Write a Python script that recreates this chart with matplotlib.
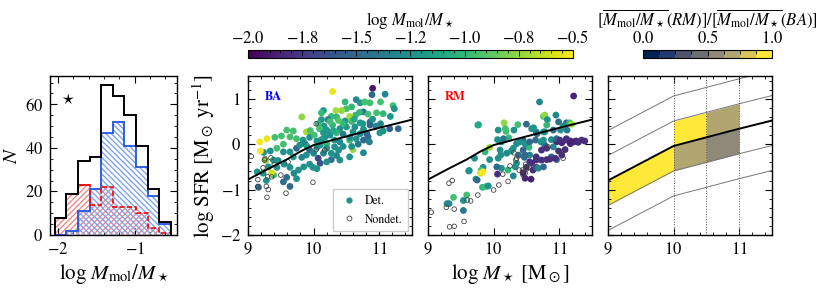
import numpy as np
import matplotlib
matplotlib.use("Agg")
import matplotlib.pyplot as plt
from matplotlib.colors import BoundaryNorm, ListedColormap
from matplotlib.ticker import AutoMinorLocator, FixedLocator, FuncFormatter
from matplotlib.lines import Line2D

plt.rcParams['font.family'] = ['STIXGeneral', 'DejaVu Serif']
plt.rcParams['mathtext.fontset'] = 'stix'
plt.rcParams['font.size'] = 12

# histogram of log Mmol/M* (bins)
hist_edges = np.linspace(-2.04, -0.53, 11)
hist_all = [8, 19, 34, 36, 69, 64, 55, 41, 21, 6]
hist_ba = [0, 2, 11, 21, 47, 52, 41, 31, 18, 5]
hist_rm = [8, 19, 23, 14, 22, 13, 13, 10, 3, 1]

# BA sample, detections: (log M*, log SFR, log Mmol/M*)
ba_det = [
    (10.90, 1.23, -1.9), (10.89, 1.09, -1.5), (11.09, 1.10, -1.3), (10.48, 0.93, -1.0),
    (10.29, 1.16, -0.55), (10.65, 0.98, -1.3), (10.71, 0.91, -1.2), (10.78, 0.93, -0.95),
    (10.86, 0.91, -0.95), (11.02, 0.93, -0.95), (11.21, 0.85, -0.95), (11.23, 0.78, -1.25),
    (10.58, 0.82, -1.0), (10.50, 0.78, -0.95), (10.43, 0.74, -0.75), (10.34, 0.74, -0.7),
    (10.15, 0.74, -1.25), (10.12, 0.69, -1.0), (10.76, 0.71, -1.4), (10.83, 0.66, -0.95),
    (10.96, 0.69, -0.95), (11.06, 0.67, -1.0), (11.17, 0.61, -1.2), (10.64, 0.64, -1.0),
    (10.55, 0.61, -0.7), (10.35, 0.60, -1.0), (10.27, 0.61, -1.0), (10.22, 0.54, -1.4),
    (10.12, 0.54, -1.2), (10.07, 0.45, -1.0), (10.48, 0.51, -1.2), (10.58, 0.50, -0.95),
    (10.71, 0.47, -1.2), (10.86, 0.49, -1.5), (10.29, 0.42, -1.0), (10.16, 0.40, -1.2),
    (10.09, 0.34, -0.95), (10.20, 0.31, -1.2), (10.40, 0.34, -1.25), (10.50, 0.38, -1.2),
    (10.63, 0.38, -1.25), (10.76, 0.33, -1.25), (10.86, 0.42, -1.5), (11.16, 0.34, -1.55),
    (11.29, 0.34, -1.5), (11.06, 0.29, -1.25), (11.01, 0.25, -1.2), (10.81, 0.23, -1.5),
    (10.71, 0.23, -1.3), (10.60, 0.27, -1.25), (10.45, 0.22, -1.4), (10.35, 0.25, -1.0),
    (10.25, 0.20, -1.25), (10.17, 0.15, -1.25), (10.12, 0.10, -1.2), (10.05, 0.07, -1.25),
    (10.10, -0.02, -1.25), (10.20, 0.01, -1.0), (10.32, 0.09, -1.25), (10.40, 0.05, -1.3),
    (10.55, 0.09, -1.0), (10.65, 0.12, -1.25), (10.76, 0.09, -1.5), (10.83, 0.16, -1.5),
    (10.20, -0.09, -1.25), (10.32, -0.06, -1.25), (10.05, -0.07, -1.25), (10.15, -0.20, -1.3),
    (10.27, -0.20, -1.25), (10.38, -0.13, -1.25), (10.60, -0.12, -0.75), (10.76, -0.19, -1.3),
    (10.27, -0.34, -1.45), (10.40, -0.35, -1.25), (10.07, -0.31, -1.7), (10.10, -0.42, -1.6),
    (10.20, -0.39, -1.25), (9.99, -0.51, -1.25), (10.05, -0.54, -1.25), (10.55, -0.28, -1.25),
    (9.89, 0.27, -0.7), (9.84, 0.09, -1.25), (9.74, 0.12, -0.95), (9.64, 0.16, -0.95),
    (9.54, 0.00, -0.95), (9.94, -0.13, -1.5), (9.89, -0.24, -1.25), (9.82, -0.29, -1.3),
    (9.74, -0.09, -1.5), (9.64, -0.17, -1.25), (9.54, -0.17, -1.25), (9.44, -0.09, -0.95),
    (9.34, -0.15, -1.25), (9.24, -0.18, -1.25), (9.18, 0.05, -0.5), (9.19, -0.15, -0.5),
    (9.29, 0.12, -0.55), (9.39, -0.35, -1.25), (9.46, -0.36, -1.25), (9.55, -0.44, -1.25),
    (9.64, -0.51, -1.25), (9.70, -0.64, -1.3), (9.59, -0.73, -1.5), (9.54, -0.83, -1.45),
    (9.64, -0.93, -1.5), (9.74, -0.76, -1.25), (9.77, -0.57, -1.25), (9.85, -0.50, -1.25),
    (9.94, -0.44, -1.25), (9.31, -0.50, -1.25), (9.23, -0.64, -1.25), (9.14, -0.61, -1.2),
    (9.16, -0.95, -1.5), (9.28, -0.80, -1.25), (9.39, -0.68, -1.0), (9.27, -0.36, -0.75),
    (9.44, -0.51, -1.25), (9.82, 0.60, -0.75), (9.69, 0.29, -0.95), (9.41, 0.15, -0.95),
    (9.51, 0.18, -0.95), (9.59, 0.31, -0.95), (9.94, 0.15, -1.25), (10.01, 0.20, -0.95),
    (9.87, 0.01, -1.3), (9.79, -0.02, -1.25), (9.69, -0.28, -1.2), (9.36, -0.63, -0.6),
    (10.45, 0.45, -1.0), (10.38, 0.52, -0.9), (10.62, 0.55, -1.1), (10.70, 0.70, -1.0),
    (10.90, 0.55, -1.25), (10.95, 0.40, -1.3), (10.30, 0.30, -1.1), (10.25, 0.50, -0.95),
    (10.55, 0.15, -1.3), (10.45, -0.05, -1.25), (10.68, 0.00, -1.4), (10.85, 0.05, -1.35),
    (10.75, 0.45, -1.2), (10.15, 0.25, -1.2), (9.95, 0.30, -0.95), (10.00, -0.20, -1.3),
    (10.35, -0.25, -1.3), (9.90, -0.05, -1.2), (10.58, -0.05, -1.25), (11.02, 0.45, -1.3),
]
# BA sample, nondetections: (log M*, log SFR)
ba_nondet = [
    (9.05, -0.27), (9.15, -0.78), (9.26, -0.32), (9.35, -0.30), (9.23, -0.52),
    (9.30, -0.72), (9.36, -0.72), (9.28, -0.93), (9.31, -1.00), (9.29, -1.17),
    (9.58, -1.08), (9.50, -0.68), (9.61, -0.39), (9.99, -0.84), (10.04, 0.45),
    (10.17, -0.13), (10.04, -0.12), (9.15, -0.93), (9.40, -0.45), (9.25, -0.35),
]

# RM sample, detections
rm_det = [
    (11.22, 1.06, -1.85), (10.70, 0.93, -1.3), (9.77, 0.43, -1.05), (10.76, 0.61, -0.9),
    (10.78, 0.64, -0.75), (10.95, 0.64, -1.3), (10.82, 0.54, -1.25), (10.50, 0.44, -1.5),
    (10.37, 0.43, -0.95), (10.16, 0.47, -0.75), (10.07, 0.31, -1.25), (10.19, 0.28, -0.95),
    (10.23, 0.14, -1.0), (10.58, 0.34, -1.25), (10.65, 0.27, -1.3), (10.76, 0.27, -1.25),
    (10.81, 0.42, -1.0), (11.11, 0.47, -1.45), (11.16, 0.47, -0.95), (11.19, 0.44, -0.75),
    (11.12, 0.31, -1.4), (11.02, 0.31, -1.25), (10.12, 0.05, -1.25), (10.35, 0.01, -1.3),
    (10.45, 0.09, -1.5), (10.50, -0.02, -1.25), (10.54, -0.07, -1.0), (10.64, 0.09, -1.5),
    (10.72, 0.05, -1.25), (10.78, -0.02, -1.5), (10.88, 0.10, -1.3), (10.96, 0.05, -1.85),
    (11.04, 0.03, -1.85), (11.11, 0.09, -1.8), (11.17, 0.07, -1.85), (11.26, 0.07, -1.85),
    (11.34, 0.09, -1.8), (11.39, 0.07, -1.8), (9.94, -0.07, -0.7), (9.87, -0.17, -1.0),
    (10.10, -0.13, -1.25), (10.20, -0.20, -1.3), (10.27, -0.15, -1.25), (10.38, -0.24, -1.5),
    (10.47, -0.29, -1.5), (10.55, -0.24, -1.3), (10.65, -0.28, -1.8), (10.73, -0.35, -1.8),
    (10.81, -0.34, -1.8), (10.88, -0.28, -1.5), (10.96, -0.34, -1.5), (11.04, -0.24, -1.8),
    (10.58, -0.42, -1.8), (10.50, -0.51, -1.85), (10.45, -0.63, -1.9), (10.60, -0.57, -1.8),
    (10.65, -0.51, -1.65), (10.22, -0.57, -1.0), (10.12, -0.53, -1.25), (10.05, -0.50, -1.5),
    (9.94, -0.34, -1.25), (9.84, -0.51, -1.25), (9.81, -0.58, -0.95), (9.80, -0.64, -0.55),
    (9.73, -0.77, -1.25), (9.63, -0.58, -1.25), (9.89, -0.93, -1.0), (9.83, -0.95, -1.0),
    (9.92, -0.92, -1.25), (9.59, -1.12, -0.95), (9.54, -1.24, -1.25), (9.39, -1.17, -0.95),
    (9.29, -1.31, -1.25), (9.54, -1.46, -1.4), (10.15, 0.12, -1.4), (10.06, 0.10, -1.25),
    (10.31, 0.31, -1.25), (10.61, 0.36, -1.25), (10.66, 0.23, -1.5), (10.78, 0.27, -1.25),
    (10.91, 0.31, -1.5), (10.99, 0.49, -1.45), (11.06, 0.40, -1.25), (10.40, 0.05, -1.25),
    (10.48, 0.01, -1.25), (10.55, 0.05, -1.5), (10.76, 0.09, -1.25), (10.96, 0.12, -1.5),
    (11.01, 0.09, -1.8), (11.11, 0.12, -1.8), (11.22, 0.05, -1.85), (11.29, 0.04, -1.8),
    (11.17, 0.01, -1.85), (10.30, -0.09, -1.25), (10.45, -0.13, -1.5), (10.73, -0.13, -1.8),
    (10.81, -0.09, -1.8), (10.91, -0.06, -1.3), (10.99, -0.15, -1.8), (11.09, -0.12, -1.8),
    (10.48, -0.24, -1.5), (10.55, -0.39, -1.8), (10.65, -0.35, -1.8), (10.86, -0.33, -1.8),
    (10.94, -0.31, -1.8), (10.35, -0.42, -1.25), (10.33, -0.50, -1.25), (10.68, -0.53, -1.3),
    (10.76, -0.50, -1.5), (10.48, -0.75, -1.85), (10.57, -0.77, -1.85), (10.30, -0.70, -1.3),
    (9.76, 0.42, -1.1), (10.18, 0.34, -0.95), (9.71, -0.31, -1.25), (9.62, -0.59, -1.25),
    (9.75, -0.79, -1.5), (9.84, -0.61, -0.5), (9.32, -1.31, -1.3), (10.07, -0.31, -1.25),
    (10.11, -0.24, -1.25), (10.06, -0.66, -1.8),
]
# RM sample, nondetections
rm_nondet = [
    (9.05, -1.50), (9.28, -1.39), (9.40, -1.43), (9.32, -0.86), (9.37, -0.80),
    (9.60, -1.23), (9.65, -1.25), (9.76, -1.12), (9.55, -1.70), (9.33, -1.82),
    (9.40, -1.81), (10.00, -1.01), (10.08, -0.90), (10.14, -0.66), (10.22, -0.82),
    (10.49, -0.44), (10.44, -0.57), (10.50, -0.55), (10.54, -0.51), (10.39, -0.57),
    (10.48, -0.64), (10.45, -0.68), (10.83, -0.06), (11.01, -0.15), (11.06, -0.31),
    (10.35, -0.31), (10.31, -0.19), (10.25, -0.48), (10.34, -0.35),
]

# star-forming main sequence
ms_mass = [9.0, 9.3, 9.6, 9.8, 10.0, 10.5, 11.0, 11.5]
ms_sfr = [-0.78, -0.55, -0.33, -0.16, -0.02, 0.17, 0.36, 0.54]

# right panel: main sequence, offset lines and ratio cells
ms4_mass = [9.0, 10.0, 10.5, 11.0, 11.5]
ms4_sfr = [-0.80, -0.04, 0.15, 0.34, 0.52]
ms4_offsets = [-1.1, -0.55, 0.55, 1.1]
cell_lo = [9.0, 10.0, 10.0, 10.5, 10.5]
cell_hi = [10.0, 10.5, 10.5, 11.0, 11.0]
cell_side = [-1, 1, -1, 1, -1]  # -1 below the sequence, +1 above
cell_ratio = [0.95, 0.95, 0.70, 0.70, 0.57]

# tick labels in math mode so the minus sign is a real one
int_fmt = FuncFormatter(lambda v, pos: '$%d$' % round(v))
one_fmt = FuncFormatter(lambda v, pos: '$%.1f$' % v)

fig = plt.figure(figsize=(8.31, 2.88), dpi=100)
ax_h = fig.add_axes([0.0602, 0.184, 0.1528, 0.552])
ax_ba = fig.add_axes([0.2984, 0.184, 0.1974, 0.552])
ax_rm = fig.add_axes([0.5150, 0.184, 0.1974, 0.552])
ax_r = fig.add_axes([0.7316, 0.184, 0.1974, 0.552])
cax1 = fig.add_axes([0.2984, 0.7986, 0.391, 0.0278])
cax2 = fig.add_axes([0.7738, 0.7986, 0.1552, 0.0278])

for ax in [ax_h, ax_ba, ax_rm, ax_r]:
    ax.tick_params(which='both', direction='in', top=True, right=True, labelsize=12, pad=5)
    ax.tick_params(which='major', length=5, width=0.8)
    ax.tick_params(which='minor', length=2.5, width=0.6)
    ax.xaxis.set_minor_locator(AutoMinorLocator())
    ax.yaxis.set_minor_locator(AutoMinorLocator())
    ax.xaxis.set_major_formatter(int_fmt)
    ax.yaxis.set_major_formatter(int_fmt)
    for sp in ax.spines.values():
        sp.set_linewidth(1.0)

# --- histogram panel
ax_h.stairs(hist_rm, hist_edges, fill=True, facecolor='none', edgecolor='#f28a8a',
            hatch='//////', linewidth=0, zorder=1)
ax_h.stairs(hist_ba, hist_edges, fill=True, facecolor='none', edgecolor='#7ea4ee',
            hatch='\\\\\\\\\\\\', linewidth=0, zorder=2)
ax_h.stairs(hist_rm[:3], hist_edges[:4], baseline=None, color='red', linewidth=1.3, zorder=2.2)
ax_h.stairs(hist_ba, hist_edges, color='#1f55e0', linewidth=1.3, zorder=2.5)
ax_h.stairs(hist_rm, hist_edges, color='red', linewidth=1.2, linestyle=(0, (3, 1.5)), zorder=3)
ax_h.stairs(hist_all, hist_edges, color='black', linewidth=1.4, zorder=4)
ax_h.text(-1.87, 62, r'$\star$', fontsize=13, ha='center', va='center')
ax_h.set_xlim(-2.1, -0.45)
ax_h.set_ylim(0, 73)
ax_h.set_xticks([-2, -1])
ax_h.set_yticks([0, 20, 40, 60])
ax_h.set_xlabel(r'$\log\,M_{\rm mol}/M_\star$', fontsize=15, labelpad=3)
ax_h.set_ylabel(r'$N$', fontsize=15, labelpad=2)

# --- scatter panels
cmap = plt.get_cmap('viridis')
panels = [(ax_ba, ba_det, ba_nondet, 'BA', 'blue'), (ax_rm, rm_det, rm_nondet, 'RM', 'red')]
for ax, det, nondet, name, col in panels:
    m, s, f = np.array(det).T
    mn, sn = np.array(nondet).T
    sc = ax.scatter(m, s, c=f, cmap=cmap, vmin=-2.0, vmax=-0.5, s=24, linewidths=0, zorder=2)
    ax.scatter(mn, sn, facecolors='none', edgecolors='#444444', s=11, linewidths=0.6, zorder=2)
    ax.plot(ms_mass, ms_sfr, color='black', lw=1.4, zorder=3)
    ax.text(0.1, 0.87, name, color=col, fontsize=9, fontweight='bold',
            transform=ax.transAxes, va='center')
    ax.set_xlim(9, 11.5)
    ax.set_ylim(-2, 1.5)
    ax.set_xticks([9, 10, 11])
    ax.set_yticks([-2, -1, 0, 1])

ax_rm.set_yticklabels([])
ax_ba.set_ylabel(r'$\log\,{\rm SFR}\ [{\rm M}_\odot\ {\rm yr}^{-1}]$', fontsize=15, labelpad=2)
ax_rm.set_xlabel(r'$\log\,M_\star\ [{\rm M}_\odot]$', fontsize=15, labelpad=3)

handles = [Line2D([], [], marker='o', ls='none', color=cmap(0.5), markersize=4.5, markeredgewidth=0),
           Line2D([], [], marker='o', ls='none', markerfacecolor='none',
                  markeredgecolor='#444444', markersize=3.5, markeredgewidth=0.6)]
leg = ax_ba.legend(handles, ['Det.', 'Nondet.'], loc='lower right', fontsize=8.5,
                   handletextpad=0.6, handlelength=1.6, borderpad=0.5, labelspacing=0.6,
                   fancybox=False, framealpha=1, edgecolor='#cccccc', borderaxespad=0.3)

# --- ratio panel
ratio_cmap = ListedColormap(plt.get_cmap('cividis')(np.linspace(0, 1, 8)))
ratio_norm = BoundaryNorm(np.linspace(0, 1, 9), 8)
ms4_grid = np.linspace(9, 11.5, 251)
ms4_line = np.interp(ms4_grid, ms4_mass, ms4_sfr)
for lo, hi, side, val in zip(cell_lo, cell_hi, cell_side, cell_ratio):
    sel = (ms4_grid >= lo - 1e-9) & (ms4_grid <= hi + 1e-9)
    ax_r.fill_between(ms4_grid[sel], ms4_line[sel], ms4_line[sel] + side * 0.55,
                      color=ratio_cmap(ratio_norm(val)), linewidth=0, zorder=1)
for off in ms4_offsets:
    ax_r.plot(ms4_mass, np.array(ms4_sfr) + off, color='#777777', lw=0.7, zorder=2)
for xv in [10.0, 10.5, 11.0]:
    ax_r.axvline(xv, color='#555555', lw=0.7, ls=':', zorder=2)
ax_r.plot(ms4_mass, ms4_sfr, color='black', lw=1.4, zorder=3)
ax_r.set_xlim(9, 11.5)
ax_r.set_ylim(-2, 1.5)
ax_r.set_xticks([9, 10, 11])
ax_r.set_yticks([-2, -1, 0, 1])
ax_r.set_yticklabels([])

# --- colorbars
cb1 = fig.colorbar(sc, cax=cax1, orientation='horizontal')
cb1.set_ticks(np.arange(-2.0, -0.49, 0.25))
cb1.ax.xaxis.set_major_formatter(one_fmt)
cb1.ax.xaxis.set_minor_locator(FixedLocator(np.arange(-2.0, -0.49, 0.05)))
cb1.ax.xaxis.set_ticks_position('top')
cb1.ax.xaxis.set_label_position('top')
cb1.ax.tick_params(which='both', direction='in', labelsize=12, width=0.6, pad=2)
cb1.ax.tick_params(which='major', length=4)
cb1.ax.tick_params(which='minor', length=2)
cb1.set_label(r'$\log\,M_{\rm mol}/M_\star$', fontsize=12, labelpad=4)
cb1.outline.set_linewidth(0.8)

sm = plt.cm.ScalarMappable(norm=ratio_norm, cmap=ratio_cmap)
cb2 = fig.colorbar(sm, cax=cax2, orientation='horizontal')
cb2.set_ticks([0.0, 0.5, 1.0])
cb2.ax.xaxis.set_major_formatter(one_fmt)
cb2.ax.xaxis.set_minor_locator(FixedLocator(np.linspace(0, 1, 9)))
cb2.ax.xaxis.set_ticks_position('top')
cb2.ax.xaxis.set_label_position('top')
cb2.ax.tick_params(which='both', direction='in', labelsize=12, width=0.6, pad=2)
cb2.ax.tick_params(which='major', length=4)
cb2.ax.tick_params(which='minor', length=3)
cb2.set_label(r'$[\overline{M_{\rm mol}/M_\star}(RM)]/[\overline{M_{\rm mol}/M_\star}(BA)]$',
              fontsize=12, labelpad=4)
cb2.outline.set_linewidth(0.8)

fig.savefig('out.png', dpi=100)
